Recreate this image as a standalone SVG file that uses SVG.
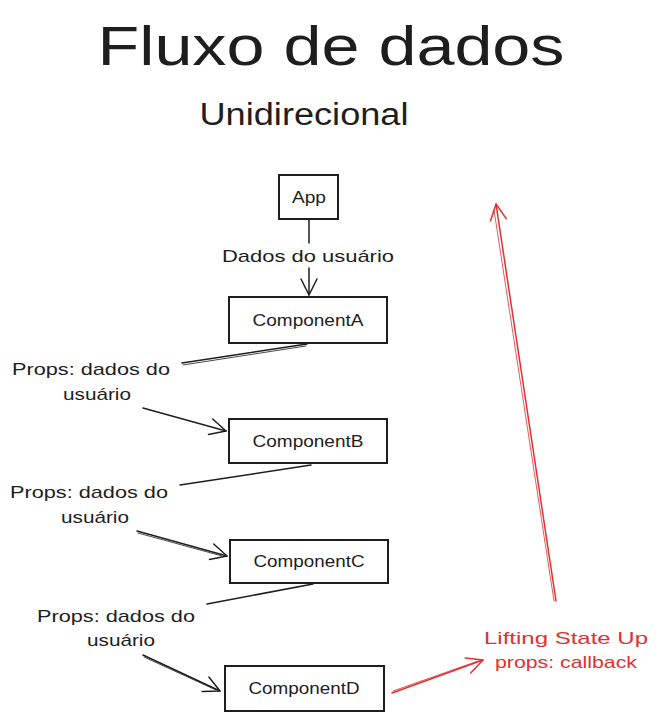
<svg xmlns="http://www.w3.org/2000/svg" width="658" height="720" viewBox="0 0 658 720">
<style>
  .box { fill: #ffffff; stroke: #1e1e1e; stroke-width: 2; }
  .lbl { font-family: "Liberation Sans", "DejaVu Sans", sans-serif; fill: #1e1e1e; }
  .node { font-size: 17px; text-anchor: middle; }
  .edge { font-size: 17px; text-anchor: middle; }
  .red { fill: #e03131; }
  .ln { fill: none; stroke: #1e1e1e; stroke-width: 1.5; stroke-linecap: round; stroke-linejoin: round; }
  .ln2 { fill: none; stroke: #1e1e1e; stroke-width: 1; stroke-linecap: round; opacity: 0.8; }
  .rl { fill: none; stroke: #e03131; stroke-width: 1.5; stroke-linecap: round; stroke-linejoin: round; }
  .rl2 { fill: none; stroke: #e03131; stroke-width: 1; stroke-linecap: round; opacity: 0.8; }
</style>
<defs>
  <marker id="ah" markerWidth="20" markerHeight="20" refX="18" refY="10" orient="auto" markerUnits="userSpaceOnUse">
    <path d="M2,2 L18,10 L2,18" fill="none" stroke="#1e1e1e" stroke-width="1.5" stroke-linecap="round" stroke-linejoin="round"/>
  </marker>
  <marker id="ahr" markerWidth="20" markerHeight="20" refX="18" refY="10" orient="auto" markerUnits="userSpaceOnUse">
    <path d="M2,2 L18,10 L2,18" fill="none" stroke="#e03131" stroke-width="1.5" stroke-linecap="round" stroke-linejoin="round"/>
  </marker>
</defs>

<g id="title">
  <text class="lbl" x="331" y="65" font-size="56" text-anchor="middle" textLength="467" lengthAdjust="spacingAndGlyphs">Fluxo de dados</text>
  <text class="lbl" x="304" y="125" font-size="31" text-anchor="middle" textLength="209" lengthAdjust="spacingAndGlyphs">Unidirecional</text>
</g>

<g id="connectors">
  <!-- App -> ComponentA -->
  <path class="ln" d="M309,220 L309,243" stroke-width="2.5"/>
  <path class="ln" d="M309,268 L309,295" marker-end="url(#ah)" stroke-width="2"/>
  <text class="lbl edge" x="308" y="262" textLength="172" lengthAdjust="spacingAndGlyphs">Dados do usuário</text>

  <!-- ComponentA -> ComponentB -->
  <path class="ln" d="M307,344 L182,363"/>
  <path class="ln2" d="M306,346 L183,365"/>
  <path class="ln" d="M143,408 L226,431" marker-end="url(#ah)"/>
  <text class="lbl edge" x="91" y="375" textLength="158" lengthAdjust="spacingAndGlyphs">Props: dados do</text>
  <text class="lbl edge" x="97" y="400" textLength="68" lengthAdjust="spacingAndGlyphs">usuário</text>

  <!-- ComponentB -> ComponentC -->
  <path class="ln" d="M311,465 L180,485"/>
  <path class="ln" d="M137,531 L227,556" marker-end="url(#ah)"/>
  <path class="ln2" d="M138,533 L222,556"/>
  <text class="lbl edge" x="89" y="498" textLength="158" lengthAdjust="spacingAndGlyphs">Props: dados do</text>
  <text class="lbl edge" x="95" y="523" textLength="68" lengthAdjust="spacingAndGlyphs">usuário</text>

  <!-- ComponentC -> ComponentD -->
  <path class="ln" d="M313,584 L207,604"/>
  <path class="ln" d="M143,655 L220,691" marker-end="url(#ah)"/>
  <path class="ln2" d="M144,657 L216,690"/>
  <text class="lbl edge" x="116" y="622" textLength="158" lengthAdjust="spacingAndGlyphs">Props: dados do</text>
  <text class="lbl edge" x="121" y="646" textLength="68" lengthAdjust="spacingAndGlyphs">usuário</text>

  <!-- ComponentD -> Lifting State Up -->
  <path class="rl" d="M392,693 L483,660" marker-end="url(#ahr)"/>
  <path class="rl2" d="M393,691 L478,661"/>
  <text class="lbl edge red" x="566" y="644" textLength="164" lengthAdjust="spacingAndGlyphs">Lifting State Up</text>
  <text class="lbl edge red" x="566" y="668" textLength="142" lengthAdjust="spacingAndGlyphs">props: callback</text>

  <!-- Lifting State Up -> up -->
  <path class="rl" d="M556,601 L496,204" marker-end="url(#ahr)"/>
  <path class="rl2" d="M554,601 L494,210"/>
</g>

<g id="node-app">
  <rect class="box" x="279" y="175" width="59" height="44"/>
  <text class="lbl node" x="309" y="203" textLength="34" lengthAdjust="spacingAndGlyphs">App</text>
</g>
<g id="node-componentA">
  <rect class="box" x="229" y="297" width="158" height="46"/>
  <text class="lbl node" x="308" y="326" textLength="111" lengthAdjust="spacingAndGlyphs">ComponentA</text>
</g>
<g id="node-componentB">
  <rect class="box" x="229" y="419" width="158" height="44"/>
  <text class="lbl node" x="308" y="447" textLength="111" lengthAdjust="spacingAndGlyphs">ComponentB</text>
</g>
<g id="node-componentC">
  <rect class="box" x="230" y="540" width="158" height="43"/>
  <text class="lbl node" x="309" y="567" textLength="111" lengthAdjust="spacingAndGlyphs">ComponentC</text>
</g>
<g id="node-componentD">
  <rect class="box" x="225" y="666" width="159" height="45"/>
  <text class="lbl node" x="304" y="694" textLength="111" lengthAdjust="spacingAndGlyphs">ComponentD</text>
</g>
</svg>
